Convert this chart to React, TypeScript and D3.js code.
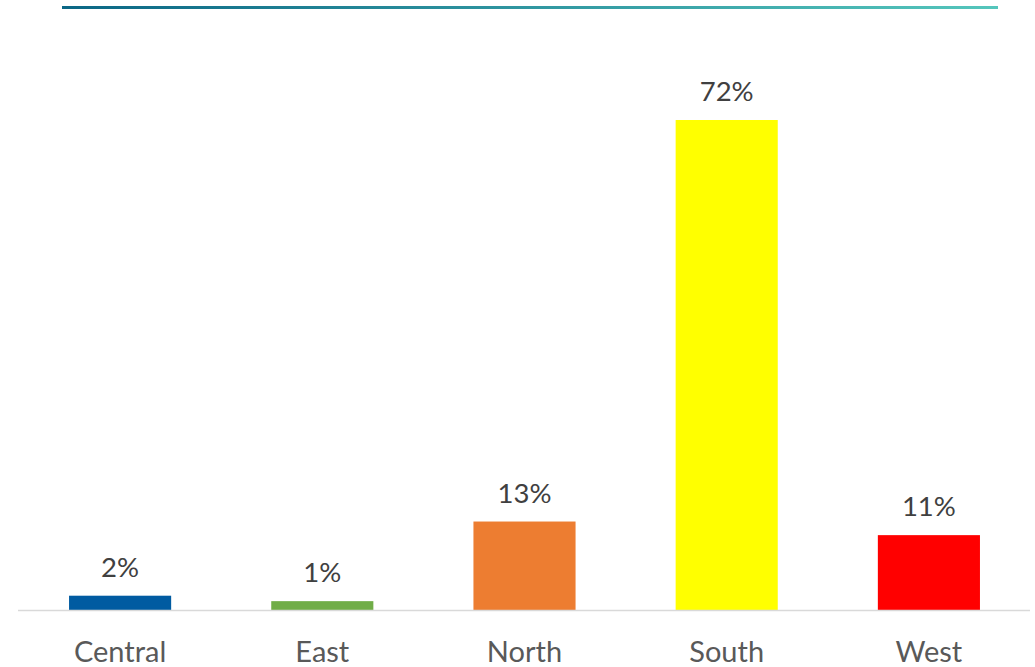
import React, { useEffect, useRef } from 'react';
import * as d3 from 'd3';

const regions = ['Central', 'East', 'North', 'South', 'West'];
const shares = [0.021, 0.013, 0.13, 0.72, 0.11];
const barColors = ['#005ba1', '#70ad47', '#ed7d31', '#ffff00', '#ff0000'];

const width = 1035;
const height = 667;

const App: React.FC = () => {
  const svgRef = useRef<SVGSVGElement>(null);

  useEffect(() => {
    if (!svgRef.current) return;
    const svg = d3.select(svgRef.current);
    svg.selectAll('*').remove();

    const baseY = 610;
    const x = d3.scaleBand<string>()
      .domain(regions)
      .range([19, 1030])
      .paddingInner(0.495)
      .paddingOuter(0.2475);
    const y = d3.scaleLinear().domain([0, 0.72]).range([baseY, 120]);
    const fmt = d3.format('.0%');

    // gradient rule at the top
    const grad = svg.append('defs').append('linearGradient')
      .attr('id', 'topRule')
      .attr('x1', '0%').attr('x2', '100%');
    grad.append('stop').attr('offset', '0%').attr('stop-color', '#0b6785');
    grad.append('stop').attr('offset', '100%').attr('stop-color', '#55c6bc');
    svg.append('rect')
      .attr('x', 62).attr('y', 6).attr('width', 936).attr('height', 3)
      .attr('fill', 'url(#topRule)');

    const data = regions.map((r, i) => ({ r, v: shares[i], c: barColors[i] }));

    svg.append('g')
      .selectAll('rect')
      .data(data)
      .join('rect')
      .attr('x', d => x(d.r)!)
      .attr('width', x.bandwidth())
      .attr('y', d => y(d.v))
      .attr('height', d => baseY - y(d.v))
      .attr('fill', d => d.c);

    svg.append('line')
      .attr('x1', 18).attr('x2', 1030)
      .attr('y1', baseY + 0.5).attr('y2', baseY + 0.5)
      .attr('stroke', '#d9d9d9').attr('stroke-width', 1.5);

    svg.append('g')
      .style('font', '27.5px Lato, "Open Sans", sans-serif')
      .attr('fill', '#404040')
      .attr('text-anchor', 'middle')
      .selectAll('text')
      .data(data)
      .join('text')
      .attr('x', d => x(d.r)! + x.bandwidth() / 2)
      .attr('y', d => y(d.v) - 19)
      .text(d => fmt(d.v));

    svg.append('g')
      .style('font', '29px Lato, "Open Sans", sans-serif')
      .attr('fill', '#595959')
      .attr('text-anchor', 'middle')
      .selectAll('text')
      .data(regions)
      .join('text')
      .attr('x', d => x(d)! + x.bandwidth() / 2)
      .attr('y', 662)
      .text(d => d);
  }, []);

  return (
    <svg
      ref={svgRef}
      width={width}
      height={height}
      style={{ position: 'absolute', left: 0, top: 0, background: '#fff' }}
    />
  );
};

export default App;
